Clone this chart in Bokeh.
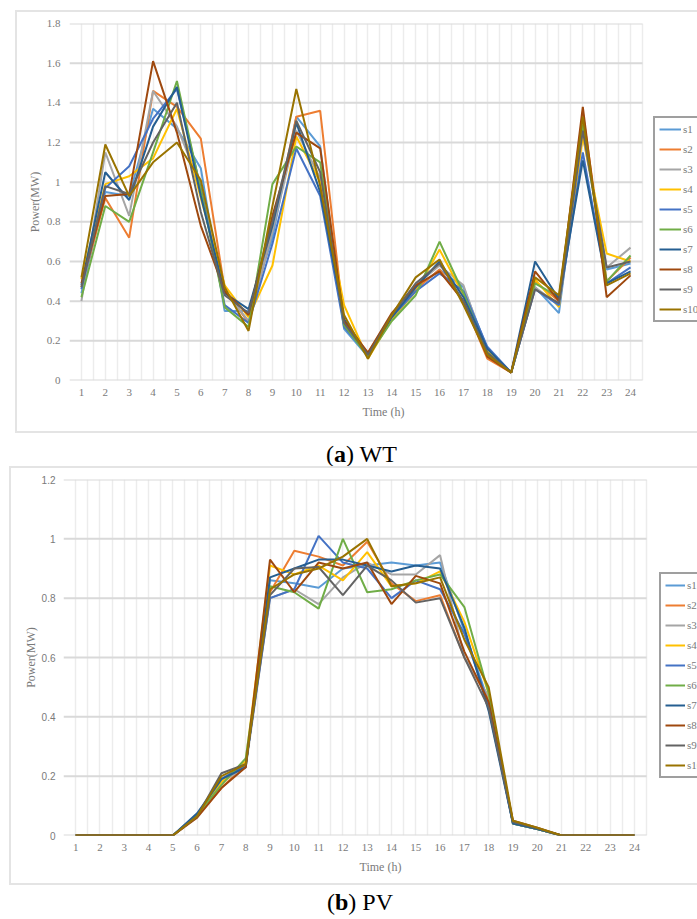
from bokeh.plotting import figure
from bokeh.models import Legend, LegendItem, FixedTicker, Div, Range1d, NumeralTickFormatter
from bokeh.layouts import column
from bokeh.embed import file_html
from bokeh.resources import INLINE

# ---- data -------------------------------------------------------------
hours = list(range(1, 25))
series_names = ["s1", "s2", "s3", "s4", "s5", "s6", "s7", "s8", "s9", "s10"]
series_colors = ["#5B9BD5", "#ED7D31", "#A5A5A5", "#FFC000", "#4472C4",
                 "#70AD47", "#255E91", "#9E480E", "#636363", "#997300"]

# Wind turbine output scenarios (MW)
wt_s1 = [0.44, 0.95, 0.93, 1.37, 1.27, 1.07, 0.35, 0.35, 0.72, 1.33, 1.18, 0.26,
         0.12, 0.31, 0.46, 0.56, 0.47, 0.16, 0.04, 0.47, 0.34, 1.27, 0.56, 0.59]
wt_s2 = [0.47, 0.92, 0.72, 1.46, 1.38, 1.22, 0.46, 0.29, 0.76, 1.33, 1.36, 0.29,
         0.14, 0.33, 0.46, 0.56, 0.40, 0.11, 0.04, 0.50, 0.40, 1.35, 0.50, 0.62]
wt_s3 = [0.40, 1.15, 0.83, 1.46, 1.28, 0.98, 0.45, 0.30, 0.75, 1.26, 1.02, 0.28,
         0.13, 0.32, 0.48, 0.58, 0.48, 0.14, 0.04, 0.47, 0.38, 1.24, 0.57, 0.67]
wt_s4 = [0.51, 0.99, 1.03, 1.12, 1.37, 0.92, 0.48, 0.32, 0.58, 1.23, 1.00, 0.38,
         0.11, 0.31, 0.45, 0.66, 0.43, 0.15, 0.04, 0.51, 0.37, 1.23, 0.64, 0.60]
wt_s5 = [0.46, 0.97, 1.08, 1.32, 1.47, 0.97, 0.38, 0.29, 0.69, 1.17, 0.93, 0.27,
         0.13, 0.32, 0.45, 0.54, 0.45, 0.17, 0.04, 0.46, 0.38, 1.15, 0.49, 0.57]
wt_s6 = [0.42, 0.88, 0.80, 1.15, 1.51, 0.96, 0.37, 0.27, 0.99, 1.18, 1.10, 0.28,
         0.12, 0.30, 0.43, 0.70, 0.44, 0.14, 0.04, 0.49, 0.42, 1.29, 0.50, 0.63]
wt_s7 = [0.48, 1.05, 0.91, 1.28, 1.48, 0.93, 0.44, 0.36, 0.78, 1.30, 0.95, 0.31,
         0.13, 0.32, 0.47, 0.60, 0.42, 0.16, 0.04, 0.60, 0.41, 1.11, 0.49, 0.55]
wt_s8 = [0.49, 0.93, 0.94, 1.61, 1.25, 0.78, 0.45, 0.33, 0.83, 1.25, 1.17, 0.30,
         0.14, 0.34, 0.48, 0.55, 0.40, 0.12, 0.04, 0.55, 0.40, 1.38, 0.42, 0.53]
wt_s9 = [0.47, 0.98, 0.94, 1.20, 1.40, 0.85, 0.43, 0.34, 0.80, 1.31, 1.05, 0.29,
         0.13, 0.33, 0.49, 0.59, 0.40, 0.14, 0.04, 0.46, 0.39, 1.26, 0.57, 0.60]
wt_s10 = [0.52, 1.19, 0.93, 1.10, 1.20, 1.01, 0.47, 0.25, 0.88, 1.47, 0.98, 0.33,
          0.11, 0.33, 0.52, 0.61, 0.38, 0.13, 0.04, 0.52, 0.43, 1.33, 0.48, 0.54]

# Photovoltaic output scenarios (MW)
pv_s1 = [0, 0, 0, 0, 0, 0.070, 0.18, 0.24, 0.86, 0.85, 0.835, 0.90,
         0.91, 0.92, 0.91, 0.92, 0.69, 0.45, 0.040, 0.022, 0, 0, 0, 0]
pv_s2 = [0, 0, 0, 0, 0, 0.065, 0.16, 0.24, 0.82, 0.96, 0.94, 0.91,
         0.99, 0.85, 0.79, 0.81, 0.60, 0.46, 0.045, 0.024, 0, 0, 0, 0]
pv_s3 = [0, 0, 0, 0, 0, 0.065, 0.18, 0.23, 0.80, 0.83, 0.78, 0.87,
         0.92, 0.88, 0.88, 0.945, 0.60, 0.47, 0.040, 0.022, 0, 0, 0, 0]
pv_s4 = [0, 0, 0, 0, 0, 0.065, 0.18, 0.25, 0.91, 0.88, 0.91, 0.86,
         0.955, 0.84, 0.85, 0.89, 0.72, 0.48, 0.040, 0.022, 0, 0, 0, 0]
pv_s5 = [0, 0, 0, 0, 0, 0.070, 0.19, 0.24, 0.80, 0.83, 1.01, 0.92,
         0.90, 0.80, 0.86, 0.83, 0.68, 0.44, 0.040, 0.022, 0, 0, 0, 0]
pv_s6 = [0, 0, 0, 0, 0, 0.070, 0.17, 0.26, 0.84, 0.82, 0.765, 1.00,
         0.82, 0.83, 0.86, 0.88, 0.77, 0.48, 0.040, 0.022, 0, 0, 0, 0]
pv_s7 = [0, 0, 0, 0, 0, 0.075, 0.19, 0.23, 0.87, 0.90, 0.93, 0.93,
         0.91, 0.89, 0.91, 0.90, 0.70, 0.42, 0.040, 0.022, 0, 0, 0, 0]
pv_s8 = [0, 0, 0, 0, 0, 0.060, 0.16, 0.23, 0.93, 0.82, 0.92, 0.90,
         0.92, 0.78, 0.875, 0.85, 0.62, 0.45, 0.050, 0.026, 0, 0, 0, 0]
pv_s9 = [0, 0, 0, 0, 0, 0.065, 0.21, 0.24, 0.81, 0.90, 0.905, 0.81,
         0.91, 0.86, 0.785, 0.80, 0.60, 0.43, 0.045, 0.024, 0, 0, 0, 0]
pv_s10 = [0, 0, 0, 0, 0, 0.065, 0.20, 0.24, 0.83, 0.88, 0.90, 0.94,
          1.00, 0.84, 0.85, 0.87, 0.66, 0.50, 0.050, 0.026, 0, 0, 0, 0]

wt_series = [wt_s1, wt_s2, wt_s3, wt_s4, wt_s5, wt_s6, wt_s7, wt_s8, wt_s9, wt_s10]
pv_series = [pv_s1, pv_s2, pv_s3, pv_s4, pv_s5, pv_s6, pv_s7, pv_s8, pv_s9, pv_s10]

wt_yticks = [0, 0.2, 0.4, 0.6, 0.8, 1.0, 1.2, 1.4, 1.6, 1.8]
pv_yticks = [0, 0.2, 0.4, 0.6, 0.8, 1.0, 1.2]

SERIF = "Liberation Serif"
TEXT_GRAY = "#7a7a7a"


def make_panel(series, yticks, width, height, left, top, bottom, plot_w,
               legend_xy, glyph_w, ytick_font, ytick_size, ystandoffs):
    # The frame runs to the right edge of the canvas so the legend can sit
    # beside the chart; the hour axis keeps a fixed pixel width per hour.
    frame_w = width - left
    x_lo, x_hi = hours[0] - 0.5, hours[-1] + 0.5
    x_end = x_lo + (x_hi - x_lo) * frame_w / plot_w
    p = figure(width=width, height=height, output_backend="svg",
               toolbar_location=None, x_range=Range1d(x_lo, x_end),
               y_range=Range1d(yticks[0], yticks[-1]),
               min_border_left=left, min_border_right=0,
               min_border_top=top, min_border_bottom=bottom)
    p.outline_line_color = None
    p.background_fill_color = "white"
    p.border_fill_color = "white"

    # light half-hour verticals
    p.xgrid.ticker = FixedTicker(ticks=[x_lo + 0.5 * i for i in range(2 * len(hours) + 1)])
    p.xgrid.grid_line_color = "#ececec"
    p.xgrid.grid_line_width = 1.5
    # value gridlines, limited to the hour span
    p.ygrid.visible = False
    p.segment(x0=[x_lo] * len(yticks), x1=[x_hi] * len(yticks), y0=yticks, y1=yticks,
              line_color="#d9d9d9", line_width=2)

    p.xaxis.ticker = FixedTicker(ticks=hours)
    p.xaxis.bounds = (x_lo, x_hi)
    p.yaxis.ticker = FixedTicker(ticks=yticks)
    p.yaxis.formatter = NumeralTickFormatter(format="0.[0]")
    for ax in (p.xaxis[0], p.yaxis[0]):
        ax.axis_line_color = None
        ax.major_tick_line_color = None
        ax.minor_tick_line_color = None
        ax.major_tick_out = 0
        ax.major_tick_in = 0
        ax.minor_tick_out = 0
        ax.minor_tick_in = 0
        ax.major_label_text_color = TEXT_GRAY
        ax.axis_label_text_font = SERIF
        ax.axis_label_text_font_size = "12px"
        ax.axis_label_text_font_style = "normal"
        ax.axis_label_text_color = TEXT_GRAY
    p.xaxis.major_label_text_font = SERIF
    p.xaxis.major_label_text_font_size = "11px"
    p.yaxis.major_label_text_font = ytick_font
    p.yaxis.major_label_text_font_size = ytick_size
    p.xaxis.axis_label = "Time (h)"
    p.yaxis.axis_label = "Power(MW)"
    p.xaxis.major_label_standoff = 8
    p.xaxis.axis_label_standoff = 6
    p.yaxis.major_label_standoff = ystandoffs[0]
    p.yaxis.axis_label_standoff = ystandoffs[1]

    items = []
    for name, color, values in zip(series_names, series_colors, series):
        r = p.line(hours, values, line_color=color, line_width=2)
        items.append(LegendItem(label=name, renderers=[r]))

    legend = Legend(items=items, location=legend_xy, margin=0, padding=4,
                    spacing=6, glyph_width=glyph_w, glyph_height=14,
                    label_height=14, label_standoff=2,
                    label_text_font=SERIF, label_text_font_size="11px",
                    label_text_color=TEXT_GRAY,
                    border_line_color="#404040", border_line_width=2,
                    background_fill_color="white", background_fill_alpha=1)
    p.add_layout(legend)
    # thin light-gray box around the whole panel (drawn outside the canvas)
    p.styles = {"outline": "2px solid #e4e4e4"}
    return p


def caption(letter, name, height, pad, left):
    html = ('<div style="font-family: \'Liberation Serif\'; font-size: 24px; '
            'line-height: 24px; color: #000; padding-top: %dpx; white-space: nowrap;">'
            '(<b>%s</b>) %s</div>' % (pad, letter, name))
    return Div(text=html, width=200, height=height, margin=(2, 0, 0, left))


wt = make_panel(wt_series, wt_yticks, 680, 419, 52, 11, 51, 573, (584, 58), 22,
                SERIF, "11px", (9, 2))
wt.margin = (12, 0, 0, 17)
pv = make_panel(pv_series, pv_yticks, 686, 415, 51, 11, 48, 584, (596, 57), 20,
                "Liberation Sans", "10px", (8, 1))
pv.margin = (2, 0, 0, 11)

cap_a = caption("a", "WT", 33, 9, 326)
cap_b = caption("b", "PV", 30, 5, 327)

page = column(wt, cap_a, pv, cap_b, margin=(0, 0, 0, 0), spacing=0)
open("out.html", "w").write(file_html(page, INLINE))
